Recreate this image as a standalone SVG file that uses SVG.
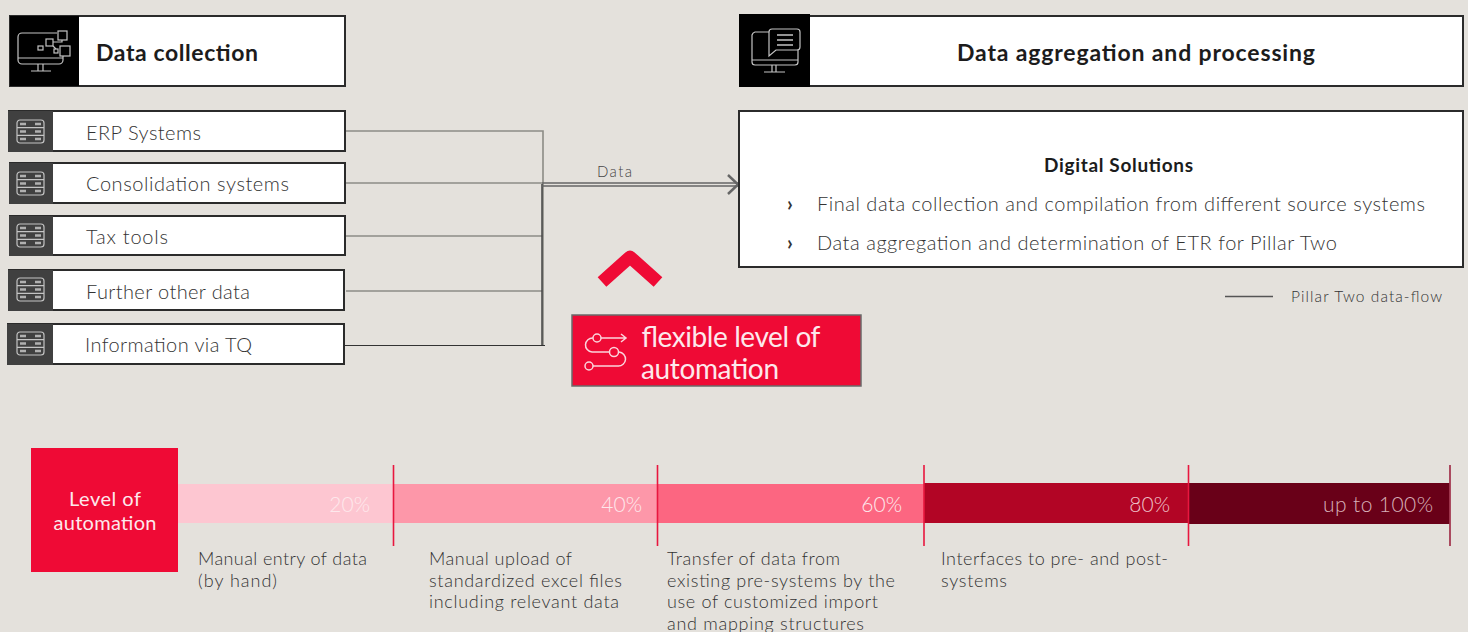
<svg xmlns="http://www.w3.org/2000/svg" width="1468" height="632" viewBox="0 0 1468 632">
<style>
text{font-family:Lato,"Open Sans","Liberation Sans",sans-serif}
.box{fill:#fff;stroke:#2b2b2b;stroke-width:2}
.tile{fill:#404040}
.lbl{font-size:20px;font-weight:300;fill:#333}
.bul{font-size:20px;font-weight:700;fill:#333}
.head{font-size:23px;font-weight:700;fill:#1c1c1c}
.desc{font-size:18px;font-weight:300;fill:#333}
.pct{font-size:21px;font-weight:300;text-anchor:end}
.ln{fill:none;stroke:#8c8c86;stroke-width:1.6}
.ic{fill:none;stroke:#c4c4c4;stroke-width:1.2}
.tick{stroke:#e8173f;stroke-width:1.6}
.w{fill:#fde8ec;font-weight:400}
</style>
<defs>
<g id="srv" class="ic"><rect x="0" y="0" width="27" height="23" rx="3"/><path d="M0 7.700H27M0 15.300H27"/><path d="M3 4h6M3 11.500h6M3 19h6M18 4h6M18 11.500h6M18 19h6" stroke-width="2.400" stroke="#b0b0b0"/></g>
</defs>
<rect width="1468" height="632" fill="#e4e1dc"/>
<g id="connectors">
<path class="ln" d="M346 131H543V345M346 183H542M346 236H543M346 291H543"/>
<path d="M344 345.500H545" fill="none" stroke="#333" stroke-width="1"/>
<path d="M542 184V345" fill="none" stroke="#444" stroke-width="1.500"/>
<path d="M542 183H738M542 186H738" fill="none" stroke="#666" stroke-width="1.600"/>
<path d="M728 175L738 184.500L728 194" fill="none" stroke="#666" stroke-width="2.500"/>
<text x="597" y="177" font-size="15" fill="#444" font-weight="300" textLength="35">Data</text>
</g>
<g id="data-collection">
<rect class="box" x="10" y="16" width="335" height="70"/><rect x="10" y="16" width="69" height="70" fill="#000"/>
<g class="ic"><path d="M57 33H22a4 4 0 0 0-4 4V60a4 4 0 0 0 4 4H59a4 4 0 0 0 4-4V56M18 58H63M38 64V71M43 64V71M31 71H51"/><rect x="58" y="31" width="9" height="9"/><rect x="46" y="39" width="7" height="7"/><rect x="38" y="46" width="5" height="4"/><rect x="54" y="49" width="4" height="4"/><rect x="60" y="46" width="10" height="10"/><path d="M53 42H62V40M53 46L56 49"/></g>
<text class="head" x="96" y="61" textLength="162">Data collection</text>
</g>
<g id="erp"><rect class="box" x="9" y="111" width="336" height="40"/><rect class="tile" x="8" y="111" width="45" height="41"/><use href="#srv" x="17" y="120"/><text class="lbl" x="86" y="140" textLength="115">ERP Systems</text></g>
<g id="consolidation"><rect class="box" x="10" y="163" width="335" height="40"/><rect class="tile" x="9" y="163" width="44" height="41"/><use href="#srv" x="17" y="172"/><text class="lbl" x="86" y="191" textLength="203">Consolidation systems</text></g>
<g id="tax"><rect class="box" x="10" y="216" width="335" height="39"/><rect class="tile" x="9" y="216" width="44" height="40"/><use href="#srv" x="17" y="224"/><text class="lbl" x="86" y="244" textLength="82">Tax tools</text></g>
<g id="further"><rect class="box" x="9" y="270" width="335" height="40"/><rect class="tile" x="8" y="270" width="45" height="41"/><use href="#srv" x="17" y="278"/><text class="lbl" x="86" y="299" textLength="164">Further other data</text></g>
<g id="tq"><rect class="box" x="8" y="324" width="336" height="40"/><rect class="tile" x="7" y="324" width="46" height="41"/><use href="#srv" x="17" y="332"/><text class="lbl" x="85" y="352" textLength="167">Information via TQ</text></g>
<g id="aggregation">
<rect class="box" x="740" y="16" width="723" height="70"/><rect x="739" y="14" width="71" height="73" fill="#000"/>
<g class="ic"><path d="M769 32H755a4 4 0 0 0-3 3V62a3 3 0 0 0 3 3H795a3 3 0 0 0 3-3V50M752 60H798M772 65V72M776 65V72M764 72H785"/><path d="M769 32a3 3 0 0 1 3-3H797a3 3 0 0 1 3 3V47a3 3 0 0 1-3 3H776L769 56Z"/><path d="M777 35H793M777 40H793M777 45H793" stroke-width="1.600"/></g>
<text class="head" x="957" y="61" textLength="358">Data aggregation and processing</text>
</g>
<g id="digital-solutions">
<rect class="box" x="739" y="111" width="724" height="156"/>
<text x="1044" y="172" font-size="19" font-weight="700" fill="#1c1c1c" textLength="149">Digital Solutions</text>
<text class="bul" x="787" y="211">›</text><text class="lbl" x="817" y="211" textLength="608">Final data collection and compilation from different source systems</text>
<text class="bul" x="787" y="250">›</text><text class="lbl" x="817" y="250" textLength="520">Data aggregation and determination of ETR for Pillar Two</text>
</g>
<g id="legend"><path d="M1225 296.500H1273" stroke="#555" stroke-width="1.500"/><text x="1291" y="302" font-size="15.500" font-weight="300" fill="#333" textLength="151">Pillar Two data-flow</text></g>
<g id="chevron"><path d="M602 282L630 257L658 282" fill="none" stroke="#ef0a35" stroke-width="13" stroke-linejoin="round"/></g>
<g id="flexible">
<rect x="572" y="315" width="289" height="71" fill="#ef0a35" stroke="#6a6a6a" stroke-width="1.500"/>
<g fill="none" stroke="#fbd5dc" stroke-width="1.500"><circle cx="597" cy="338" r="4"/><circle cx="614" cy="352" r="4.500"/><circle cx="589" cy="366" r="4"/><path d="M601 338H625M621 334L626 338L621 342M593 338A7 7 0 0 0 592 352H609M619 352A7 7 0 0 1 618 366H593"/></g>
<text x="641" y="347" font-size="28" font-weight="400" fill="#fde8ec" textLength="179">flexible level of</text>
<text x="641" y="379" font-size="28" font-weight="400" fill="#fde8ec" textLength="138">automation</text>
</g>
<g id="level-of-automation">
<rect x="31" y="448" width="147" height="124" fill="#ef0a35"/>
<text class="w" x="105" y="506" font-size="20" text-anchor="middle" textLength="72">Level of</text>
<text class="w" x="105" y="530" font-size="20" text-anchor="middle" textLength="103">automation</text>
</g>
<g id="scale">
<rect x="178" y="484" width="216" height="39" fill="#fdc6d1"/>
<rect x="394" y="484" width="264" height="39" fill="#fd97a9"/>
<rect x="658" y="484" width="266" height="39" fill="#fc6681"/>
<rect x="924" y="483" width="265" height="40" fill="#b20525"/>
<rect x="1189" y="483" width="261" height="41" fill="#690018"/>
<path class="tick" d="M393.500 465V546M657.500 465V546M924 465V546M1188.500 465V546"/>
<path d="M1450 465V546" stroke="#a33a52" stroke-width="1.800"/>
<text class="pct" x="370" y="512" fill="#fde8ec">20%</text>
<text class="pct" x="642" y="512" fill="#fde8ec">40%</text>
<text class="pct" x="902" y="512" fill="#fde8ec">60%</text>
<text class="pct" x="1170" y="512" fill="#eec0c8">80%</text>
<text class="pct" x="1433" y="512" fill="#d8b0b8" textLength="110">up to 100%</text>
</g>
<g id="desc-20"><text class="desc" x="198" y="565" textLength="169">Manual entry of data</text><text class="desc" x="198" y="587" textLength="79">(by hand)</text></g>
<g id="desc-40"><text class="desc" x="429" y="565" textLength="143">Manual upload of</text><text class="desc" x="429" y="587" textLength="193">standardized excel files</text><text class="desc" x="429" y="608" textLength="190">including relevant data</text></g>
<g id="desc-60"><text class="desc" x="667" y="565" textLength="173">Transfer of data from</text><text class="desc" x="667" y="587" textLength="228">existing pre-systems by the</text><text class="desc" x="667" y="608" textLength="211">use of customized import</text><text class="desc" x="667" y="630" textLength="197">and mapping structures</text></g>
<g id="desc-80"><text class="desc" x="941" y="565" textLength="227">Interfaces to pre- and post-</text><text class="desc" x="941" y="587" textLength="66">systems</text></g>
</svg>
